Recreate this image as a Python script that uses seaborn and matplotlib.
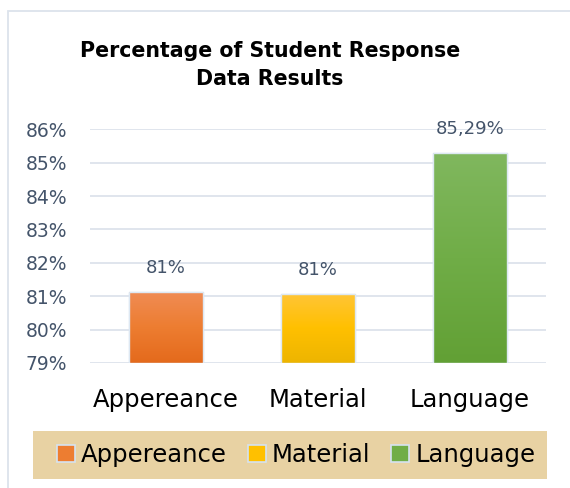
import numpy as np
import pandas as pd
import matplotlib
matplotlib.use("Agg")
import matplotlib.pyplot as plt
import seaborn as sns
from matplotlib.patches import Rectangle, Patch

categories = ["Appereance", "Material", "Language"]
values = [81.13, 81.07, 85.29]
value_labels = ["81%", "81%", "85,29%"]
yticks = [79, 80, 81, 82, 83, 84, 85, 86]
ytick_labels = ["79%", "80%", "81%", "82%", "83%", "84%", "85%", "86%"]
title = "Percentage of Student Response\nData Results"

colors = ["#ED7D31", "#FFC000", "#70AD47"]
grad_top = ["#F08C55", "#FFC537", "#80B75E"]
grad_bot = ["#E46A1C", "#EDB500", "#62A035"]

sns.set_theme(style="white")
plt.rcParams["font.family"] = ["DejaVu Sans"]
plt.rcParams["text.color"] = "black"

W, H = 570, 488
fig = plt.figure(figsize=(W / 100, H / 100), dpi=100)
fig.patch.set_facecolor("white")

# outer chart frame
fig.patches.append(Rectangle((8 / W, -0.1), 1.2, 1 - 11 / H + 0.1, transform=fig.transFigure,
                             fill=False, edgecolor="#DCE3EC", linewidth=1.3))

# legend background band
fig.patches.append(Rectangle((33 / W, 1 - 479 / H), (547 - 33) / W, 48 / H, transform=fig.transFigure,
                             facecolor="#E8D2A3", edgecolor="none", zorder=0))

ax = fig.add_axes([90 / W, 1 - 363 / H, (546 - 90) / W, (363 - 129.3) / H])
df = pd.DataFrame({"cat": categories, "val": values})
sns.barplot(data=df, x="cat", y="val", hue="cat", palette=colors, width=0.49,
            legend=False, ax=ax, edgecolor="#DDE8F3", linewidth=1.0, saturation=1)
ax.set_ylim(79, 86)
ax.set_xlim(-0.5, 2.5)

# gradient overlay in each bar
for i, p in enumerate(list(ax.patches)):
    x0, w = p.get_x(), p.get_width()
    y1 = p.get_height()
    cmap = matplotlib.colors.LinearSegmentedColormap.from_list("g", [grad_bot[i], colors[i], grad_top[i]])
    grad = np.linspace(0, 1, 100).reshape(-1, 1)
    im = ax.imshow(grad, cmap=cmap, extent=[x0, x0 + w, 79, y1], origin="lower",
                   aspect="auto", zorder=p.get_zorder() + 0.1)
    im.set_clip_path(p)
    ax.add_patch(Rectangle((x0, 79), w, y1 - 79, fill=False, edgecolor="#DDE8F3",
                           linewidth=1.0, zorder=p.get_zorder() + 0.2))
ax.set_xlim(-0.5, 2.5)
ax.set_ylim(79, 86)

ax.set_yticks(yticks)
ax.set_yticklabels(ytick_labels)
ax.yaxis.grid(True, color="#DDE3EC", linewidth=1.3)
ax.set_axisbelow(True)
for s in ax.spines.values():
    s.set_visible(False)
ax.tick_params(axis="y", length=0, pad=16.5, labelsize=13.5, labelcolor="#44546A")
ax.tick_params(axis="x", length=0, pad=18, labelsize=17.5, labelcolor="black")
ax.set_xlabel("")
ax.set_ylabel("")

for i, (v, lab) in enumerate(zip(values, value_labels)):
    ax.annotate(lab, (i, v), xytext=(0, 24), textcoords="offset pixels",
                ha="center", va="center", fontsize=13, color="#44546A")

fig.text(270 / W, 1 - 65 / H, title, ha="center", va="center", fontsize=14.8,
         fontweight="bold", color="black", linespacing=1.45)

handles = [Patch(facecolor=c, edgecolor="#D5E2F0", linewidth=1.2) for c in colors]
leg = fig.legend(handles, categories, loc="center", bbox_to_anchor=(296 / W, 1 - 455 / H),
                 ncol=3, frameon=False, fontsize=17.5, handlelength=0.75, handleheight=0.75,
                 handletextpad=0.25, columnspacing=0.85, borderpad=0.3, labelcolor="black")

fig.savefig("out.png", dpi=100)
